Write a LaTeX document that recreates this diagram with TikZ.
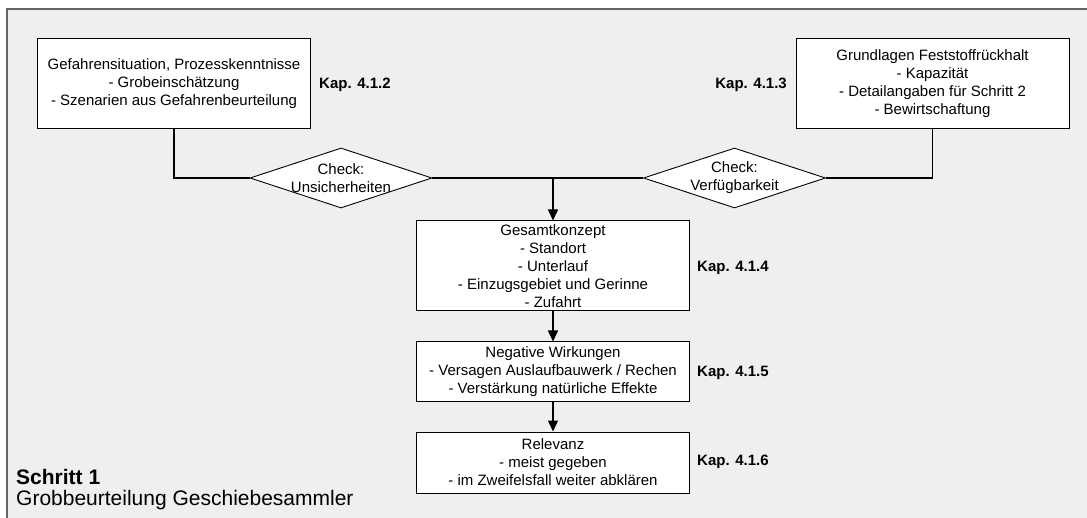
\documentclass[tikz,border=0pt]{standalone}
\usepackage{fontspec}
\setmainfont{Liberation Sans}
\usetikzlibrary{arrows.meta,shapes.geometric}
\definecolor{panel}{HTML}{EFEFEF}
\definecolor{frameline}{HTML}{646464}
\begin{document}
\begin{tikzpicture}[x=1pt,y=-1pt,
  txt/.style={font=\fontsize{15}{18}\selectfont, align=center, inner sep=0pt},
  stepbox/.style={txt, draw=black, fill=white, line width=1pt, minimum width=273pt},
  checkdia/.style={diamond, draw=black, fill=white, line width=0.9pt, minimum width=182pt, minimum height=60pt, inner sep=0pt},
  kap/.style={font=\fontsize{15}{18}\selectfont\bfseries, inner sep=0pt},
  link/.style={line width=1.3pt},
  flow/.style={link, -{Triangle[length=11pt,width=10pt]}}]
\useasboundingbox (0,0) rectangle (1087,518);
% panel with its top and left border
\fill[white] (0,0) rectangle (1087,518);
\fill[panel] (7,9) rectangle (1087,518);
\draw[frameline, line width=1.5pt] (7,518) -- (7,9) -- (1087,9);

% input boxes
\node[stepbox, minimum height=90pt] (b1) at (174,84)
  {Gefahrensituation, Prozesskenntnisse\\- Grobeinschätzung\\- Szenarien aus Gefahrenbeurteilung};
\node[kap, anchor=west] (k2) at (319,85) {Kap. 4.1.2};
\node[stepbox, minimum height=90pt] (b2) at (932.5,84)
  {Grundlagen Feststoffrückhalt\\- Kapazität\\- Detailangaben für Schritt 2\\- Bewirtschaftung};
\node[kap, anchor=east] (k3) at (787,85) {Kap. 4.1.3};

% checks
\node[checkdia] (d1) at (341,178) {};
\node[txt] (t1) at (d1.center) {Check:\\Unsicherheiten};
\node[checkdia] (d2) at (734.5,178) {};
\node[txt] (t2) at (d2.center) {Check:\\Verfügbarkeit};

% main chain
\node[stepbox, minimum height=90pt] (b3) at (553,266)
  {Gesamtkonzept\\- Standort\\- Unterlauf\\- Einzugsgebiet und Gerinne\\- Zufahrt};
\node[kap, anchor=west] (k4) at (697,268) {Kap. 4.1.4};
\node[stepbox, minimum height=60pt] (b4) at (553,372)
  {Negative Wirkungen\\- Versagen Auslaufbauwerk / Rechen\\- Verstärkung natürliche Effekte};
\node[kap, anchor=west] (k5) at (697,373) {Kap. 4.1.5};
\node[stepbox, minimum height=61pt] (b5) at (553,462.5)
  {Relevanz\\- meist gegeben\\- im Zweifelsfall weiter abklären};
\node[kap, anchor=west] (k6) at (697,462) {Kap. 4.1.6};

% connectors
\coordinate (j) at (b3.north |- d1.east);
\draw[link] (b1.south) |- (d1.west);
\draw[link] (b2.south) |- (d2.east);
\draw[link] (d1.east) -- (d2.west);
\draw[flow] (j) -- (b3.north);
\draw[flow] (b3.south) -- (b4.north);
\draw[flow] (b4.south) -- (b5.north);

% step caption
\node[anchor=west, inner sep=0pt, font=\fontsize{21}{22}\selectfont\bfseries] (s1) at (16,477) {Schritt 1};
\node[anchor=west, inner sep=0pt, font=\fontsize{21}{22}\selectfont] (s2) at (16,500) {Grobbeurteilung Geschiebesammler};
\end{tikzpicture}
\end{document}
